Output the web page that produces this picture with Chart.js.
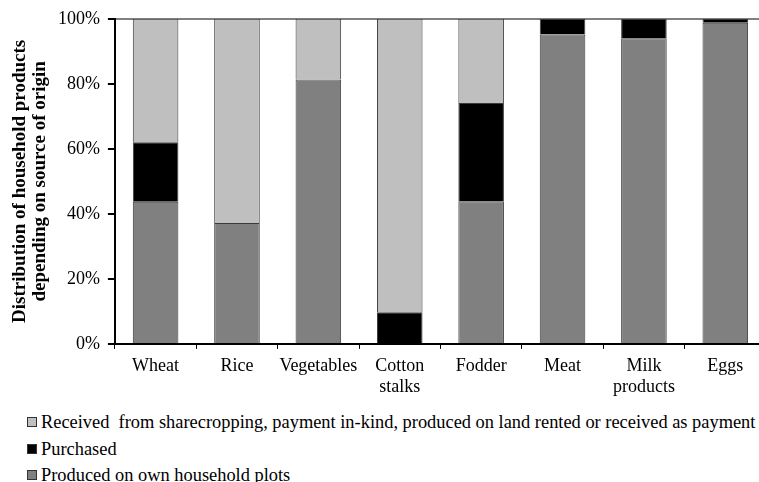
<!DOCTYPE html>
<html>
<head>
<meta charset="utf-8">
<script src="https://cdn.jsdelivr.net/npm/chart.js@4"></script>
<style>
  html, body { margin: 0; padding: 0; background: #fff; overflow: hidden; }
  #wrap { position: relative; width: 759px; height: 482px; overflow: hidden; }
  #chart { position: absolute; left: 0; top: 0; }
  .legend { position: absolute; left: 27px; top: 409px; font-family: "Liberation Serif", serif; font-size: 18.4px; color: #000; }
  .legend div { height: 26.5px; line-height: 26px; white-space: pre; }
  .legend span.box { display: inline-block; width: 8px; height: 8px; border: 1px solid #333; margin-right: 4px; vertical-align: 1px; }
</style>
</head>
<body>
<div id="wrap">
  <canvas id="chart" width="766" height="405"></canvas>
  <div class="legend" id="legend"></div>
</div>
<script>
  const categories = ['Wheat', 'Rice', 'Vegetables', ['Cotton', 'stalks'], 'Fodder', 'Meat', ['Milk', 'products'], 'Eggs'];
  const produced  = [43.7, 37.2, 81.3, 0,    43.9, 95.2, 94.0, 98.8];
  const purchased = [18.3, 0,    0,    9.7,  30.2, 4.8,  6.0,  1.2];
  const received  = [38.0, 62.8, 18.7, 90.3, 25.9, 0,    0,    0];
  const yTicks = [0, 20, 40, 60, 80, 100];

  const serif = "'Liberation Serif', 'Times New Roman', serif";

  const series = [
    { label: 'Produced on own household plots', data: produced, color: '#808080' },
    { label: 'Purchased', data: purchased, color: '#000000' },
    { label: 'Received  from sharecropping, payment in-kind, produced on land rented or received as payment', data: received, color: '#bfbfbf' }
  ];

  new Chart(document.getElementById('chart'), {
    type: 'bar',
    data: {
      labels: categories,
      datasets: series.map(s => ({
        label: s.label,
        data: s.data,
        backgroundColor: s.color,
        borderColor: '#3a3a3a',
        borderWidth: 1,
        barPercentage: 0.56,
        categoryPercentage: 1
      }))
    },
    options: {
      responsive: false,
      animation: false,
      layout: { padding: { top: 11, left: 10, right: 0, bottom: 0 } },
      plugins: {
        legend: { display: false },
        tooltip: { enabled: false }
      },
      scales: {
        x: {
          stacked: true,
          offset: true,
          border: { color: '#000', width: 2 },
          grid: { offset: true, drawOnChartArea: false, tickLength: 5, color: '#000', lineWidth: 1 },
          ticks: { color: '#000', font: { family: serif, size: 18, lineHeight: 1.17 }, maxRotation: 0, autoSkip: false, padding: 7 }
        },
        y: {
          stacked: true,
          min: 0,
          max: 100,
          afterBuildTicks: axis => { axis.ticks = yTicks.map(v => ({ value: v })); },
          border: { color: '#000', width: 2 },
          grid: {
            color: ctx => (ctx.tick && ctx.tick.value === 100) ? '#808080' : 'rgba(0,0,0,0)',
            tickColor: '#000',
            tickLength: 7,
            lineWidth: 2
          },
          ticks: {
            color: '#000',
            font: { family: serif, size: 18 },
            padding: 8,
            callback: v => v + '%'
          },
          title: {
            display: true,
            text: ['Distribution of household products', 'depending on source of origin'],
            color: '#000',
            font: { family: serif, size: 19, weight: 'bold', lineHeight: 1.05 },
            padding: { top: 0, bottom: 0 }
          }
        }
      }
    }
  });

  // legend rows, one item per line, top series first
  const legend = document.getElementById('legend');
  series.slice().reverse().forEach(s => {
    const row = document.createElement('div');
    row.innerHTML = `<span class="box" style="background:${s.color}"></span>${s.label}`;
    legend.appendChild(row);
  });
</script>
</body>
</html>
